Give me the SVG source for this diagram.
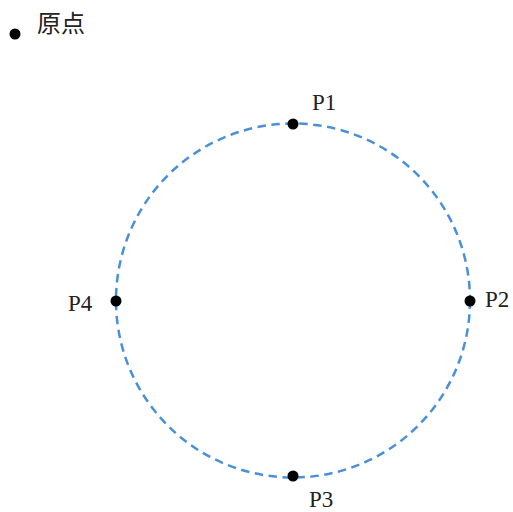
<svg xmlns="http://www.w3.org/2000/svg" width="513" height="512" viewBox="0 0 513 512">
<style>
.lbl{font-family:"Liberation Serif","Noto Sans CJK SC",serif;font-size:23px;fill:#222}
.dot{fill:#000}
.circ{fill:none;stroke:#4a90d9;stroke-width:2.5;stroke-dasharray:8.5 5.5}
</style>
<rect width="513" height="512" fill="#fff"/>
<g id="connectors">
<circle class="circ" cx="293" cy="300.5" r="177"/>
</g>
<g id="origin">
<circle class="dot" cx="15" cy="34" r="5.5"/>
<text class="lbl" x="37" y="32" style="font-size:24px">原点</text>
</g>
<g id="P1">
<circle class="dot" cx="293" cy="124" r="5.5"/>
<text class="lbl" x="312" y="110">P1</text>
</g>
<g id="P2">
<circle class="dot" cx="470" cy="301" r="5.5"/>
<text class="lbl" x="485" y="307">P2</text>
</g>
<g id="P3">
<circle class="dot" cx="293" cy="476" r="5.5"/>
<text class="lbl" x="309" y="507">P3</text>
</g>
<g id="P4">
<circle class="dot" cx="116" cy="301" r="5.5"/>
<text class="lbl" x="68" y="311">P4</text>
</g>
</svg>
